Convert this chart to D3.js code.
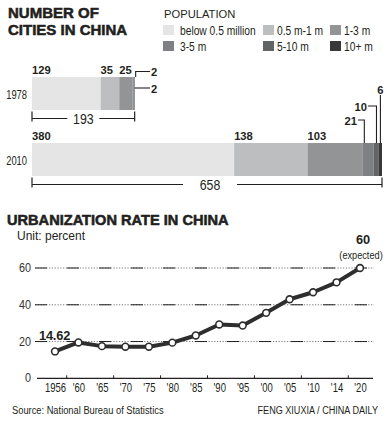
<!DOCTYPE html>
<html><head><meta charset="utf-8">
<script src="https://cdn.jsdelivr.net/npm/d3@7"></script>
<style>
body{margin:0;background:#fff;}
svg{display:block;}
text{font-family:"Liberation Sans",Arial,sans-serif;}
</style>
</head><body>
<script>
// ---- Data ----
const groups = ["below 0.5 million","0.5 m-1 m","1-3 m","3-5 m","5-10 m","10+ m"];
const barYears = ["1978","2010"];
const cities1978 = [129,35,25,2,2,0];
const cities2010 = [380,138,103,21,10,6];
const urbYears = ["1956","'60","'65","'70","'75","'80","'85","'90","'95","'00","'05","'10","'14","'20"];
const urbRate = [14.62,19.5,17.5,17.2,17.2,19.4,23.3,29.3,28.7,35.6,43.0,46.8,52.2,60];
const yTicks = [0,20,40,60];

const colors = ["#e5e5e6","#bdbec0","#939496","#7f8083","#636466","#38383a"];
const ink = "#231f20";

const W=391,H=422;
const svg=d3.select("body").append("svg").attr("width",W).attr("height",H);

// condensed-text helper (horizontal squeeze around anchor point)
function ct(parent,x,y,t,o){
  o=o||{};
  const sx=o.sx==null?0.82:o.sx;
  const el=parent.append("text").attr("transform",`translate(${x},${y}) scale(${sx},1)`)
    .attr("font-size",o.size||12).attr("text-anchor",o.anchor||"start").attr("fill",o.fill||ink)
    .text(t);
  if(o.bold) el.attr("font-weight","bold");
  if(o.ls!=null) el.attr("letter-spacing",o.ls);
  return el;
}

// Titles
function title(x,y,t,size){
  svg.append("text").attr("x",x).attr("y",y).attr("font-size",size).attr("font-weight","bold")
    .attr("fill",ink).attr("stroke",ink).attr("stroke-width",0.55).text(t);
}
title(8,18,"NUMBER OF",15);
title(8,35,"CITIES IN CHINA",15);

// Legend
ct(svg,164,18,"POPULATION",{size:11.8,sx:0.95});
const lgX=[163,263,330], lgY=[25,41];
groups.forEach((g,i)=>{
  const cx=lgX[i%3], cy=lgY[Math.floor(i/3)];
  svg.append("rect").attr("x",cx).attr("y",cy).attr("width",11).attr("height",10).attr("fill",colors[i]);
  ct(svg,cx+(i%3===0?17:14),cy+9.5,g,{size:12.5,sx:0.82});
});

// Bar chart
const xb=d3.scaleLinear().domain([0,658]).range([32,382]);
const barH=33;
const barTop={"1978":77,"2010":143};
const dataByYear={"1978":cities1978,"2010":cities2010};

barYears.forEach(yr=>{
  const vals=dataByYear[yr];
  let cum=0;
  const segs=vals.map((v,i)=>{const s={i,v,x0:cum,x1:cum+v};cum+=v;return s;});
  const top=barTop[yr];
  svg.append("g").selectAll("rect").data(segs.filter(s=>s.v>0)).join("rect")
    .attr("x",d=>xb(d.x0)).attr("width",d=>xb(d.x1)-xb(d.x0))
    .attr("y",top).attr("height",barH).attr("fill",d=>colors[d.i]);
  ct(svg,27,top+barH/2+5,yr,{size:12.5,sx:0.75,anchor:"end"});
  // total bracket
  const by=top+barH+8.5, total=cum;
  const xl=xb(0), xr=xb(total), xm=(xl+xr)/2 + (yr==="2010"?3:0);
  const g=svg.append("g").attr("stroke",ink).attr("stroke-width",1.2);
  g.append("line").attr("x1",xl).attr("x2",xl).attr("y1",by-7).attr("y2",by+3);
  g.append("line").attr("x1",xr).attr("x2",xr).attr("y1",by-7).attr("y2",by+3);
  const gap=yr==="2010"?27:16;
  g.append("line").attr("x1",xl).attr("x2",xm-gap).attr("y1",by).attr("y2",by);
  g.append("line").attr("x1",xm+gap).attr("x2",xr).attr("y1",by).attr("y2",by);
  ct(svg,xm,by+5,total,{size:14.5,sx:0.85,anchor:"middle"});
});

function boldLbl(x,y,t,anchor){
  ct(svg,x,y,t,{size:11.8,sx:0.95,bold:true,anchor:anchor||"start"});
}
function seg(vals,i){let s=0;for(let k=0;k<i;k++)s+=vals[k];return [xb(s),xb(s+vals[i])];}
const conn=svg.append("g").attr("stroke",ink).attr("stroke-width",1.1).attr("fill","none");

// 1978 labels
[0,1,2].forEach(i=>boldLbl(seg(cities1978,i)[0],74,cities1978[i]));
{
  const end=seg(cities1978,4)[1];
  conn.append("path").attr("d",`M${end+1},77 V71.5 H150`);
  boldLbl(151,75.5,cities1978[3]);
  conn.append("path").attr("d",`M${end},88 H150`);
  boldLbl(151,92.5,cities1978[4]);
}
// 2010 labels
[0,1,2].forEach(i=>boldLbl(seg(cities2010,i)[0],140,cities2010[i]));
{
  const s3=seg(cities2010,3), s4=seg(cities2010,4), s5=seg(cities2010,5);
  const x3=s3[0]+2, x4=s4[0]+3, x5=(s5[0]+s5[1])/2;
  conn.append("path").attr("d",`M${x3},143 V120 H358`);
  boldLbl(357,124.5,cities2010[3],"end");
  conn.append("path").attr("d",`M${x4},143 V106 H368`);
  boldLbl(367,110.5,cities2010[4],"end");
  conn.append("path").attr("d",`M${x5},143 V95`);
  boldLbl(x5,93.5,cities2010[5],"middle");
}

// Urbanization chart
title(7,225,"URBANIZATION RATE IN CHINA",14.6);
ct(svg,17,240,"Unit: percent",{size:12,sx:1});

const xl=d3.scalePoint().domain(urbYears).range([55,360]);
const yl=d3.scaleLinear().domain([0,60]).range([378.3,268]);

// grid
const grid=svg.append("g");
yTicks.filter(t=>t>0).forEach(t=>{
  grid.append("line").attr("x1",35).attr("x2",374).attr("y1",yl(t)).attr("y2",yl(t))
    .attr("stroke","#555").attr("stroke-width",0.8).attr("stroke-dasharray","1.2,1.6");
  grid.append("line").attr("x1",35).attr("x2",374).attr("y1",yl(t)).attr("y2",yl(t))
    .attr("stroke",ink).attr("stroke-width",1).attr("stroke-dasharray","12,20");
});
yTicks.forEach(t=>{
  ct(svg,31,yl(t)+4,t,{size:12,sx:0.9,anchor:"end",fill:"#333"});
});
// x axis
const xAxis=d3.axisBottom(xl).tickSize(0).tickPadding(7);
const ax=svg.append("g").attr("transform",`translate(0,${yl(0)})`).call(xAxis);
ax.select(".domain").remove();
ax.selectAll("text").attr("font-size",12.5).attr("fill",ink).attr("font-family","Liberation Sans, Arial, sans-serif")
  .attr("y",null).attr("dy",null).attr("transform","translate(0,14) scale(0.76,1)");
svg.append("line").attr("x1",37).attr("x2",373).attr("y1",yl(0)).attr("y2",yl(0)).attr("stroke",ink).attr("stroke-width",1.2);
for(let i=0;i+1<urbYears.length;i+=2){
  const xm=(xl(urbYears[i])+xl(urbYears[i+1]))/2;
  svg.append("line").attr("x1",xm).attr("x2",xm).attr("y1",yl(0)-3).attr("y2",yl(0)).attr("stroke",ink).attr("stroke-width",1);
}

const pts=urbYears.map((y,i)=>({y,v:urbRate[i]}));
svg.append("path").datum(pts).attr("d",d3.line().x(d=>xl(d.y)).y(d=>yl(d.v)))
  .attr("fill","none").attr("stroke","#2e2e2e").attr("stroke-width",4).attr("stroke-linejoin","round");
svg.append("g").selectAll("circle").data(pts).join("circle")
  .attr("cx",d=>xl(d.y)).attr("cy",d=>yl(d.v)).attr("r",3.4)
  .attr("fill","#fff").attr("stroke","#2e2e2e").attr("stroke-width",1.6);

// annotations
ct(svg,39,339.5,urbRate[0],{size:13.5,sx:0.95,bold:true,ls:-0.2});
ct(svg,363,244,urbRate[urbRate.length-1],{size:13.5,sx:0.95,bold:true,anchor:"middle"});
ct(svg,361,258.5,"(expected)",{size:11.2,sx:0.82,anchor:"middle"});

// footer
ct(svg,12,414,"Source: National Bureau of Statistics",{size:11.5,sx:0.81});
ct(svg,378,414,"FENG XIUXIA / CHINA DAILY",{size:11.5,sx:0.79,anchor:"end"});
</script>
</body></html>
